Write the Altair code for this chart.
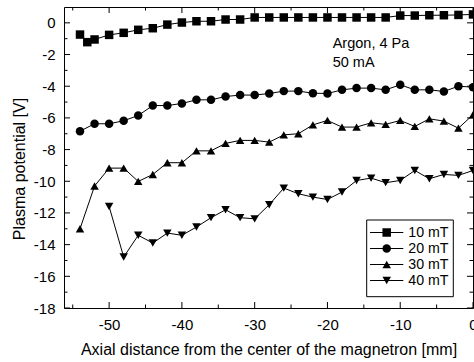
import altair as alt
import pandas as pd

# ---- data ----
series_labels = ["10 mT", "20 mT", "30 mT", "40 mT"]
series_shapes = ["square", "circle", "triangle-up", "triangle-down"]

x_10 = [-54, -53, -52, -50, -48, -46, -44, -42, -40, -38, -36, -34, -32, -30,
        -28, -26, -24, -22, -20, -18, -16, -14, -12, -10, -8, -6, -4, -2, 0]
y_10 = [-0.74, -1.22, -1.05, -0.76, -0.63, -0.44, -0.34, -0.11, 0.02, 0.10, 0.10,
        0.21, 0.21, 0.34, 0.34, 0.34, 0.34, 0.34, 0.34, 0.34, 0.34, 0.34, 0.34,
        0.46, 0.46, 0.48, 0.48, 0.50, 0.53]

x_20 = [-54, -52, -50, -48, -46, -44, -42, -40, -38, -36, -34, -32, -30, -28,
        -26, -24, -22, -20, -18, -16, -14, -12, -10, -8, -6, -4, -2, 0]
y_20 = [-6.84, -6.37, -6.37, -6.18, -5.85, -5.22, -5.22, -5.09, -4.86, -4.86,
        -4.65, -4.56, -4.56, -4.46, -4.31, -4.31, -4.44, -4.46, -4.23, -4.12,
        -4.12, -4.23, -3.91, -4.23, -4.23, -4.33, -4.00, -4.06]

x_30 = [-54, -52, -50, -48, -46, -44, -42, -40, -38, -36, -34, -32, -30, -28,
        -26, -24, -22, -20, -18, -16, -14, -12, -10, -8, -6, -4, -2, 0]
y_30 = [-13.0, -10.3, -9.17, -9.17, -10.01, -9.57, -8.83, -8.83, -8.08, -8.08,
        -7.61, -7.42, -7.42, -7.53, -7.07, -7.00, -6.44, -6.16, -6.58, -6.58,
        -6.31, -6.41, -6.16, -6.54, -6.06, -6.20, -6.65, -5.80]

x_40 = [-50, -48, -46, -44, -42, -40, -38, -36, -34, -32, -30, -28, -26, -24,
        -22, -20, -18, -16, -14, -12, -10, -8, -6, -4, -2, 0]
y_40 = [-11.59, -14.78, -13.41, -13.90, -13.27, -13.41, -12.89, -12.30, -11.80,
        -12.30, -12.37, -11.48, -10.43, -10.79, -11.00, -11.15, -10.68, -9.95,
        -9.80, -10.09, -9.95, -9.32, -9.84, -9.57, -9.63, -9.32]

x_major = [-50, -40, -30, -20, -10, 0]
x_minor = [-55, -45, -35, -25, -15, -5]
y_major = [-18, -16, -14, -12, -10, -8, -6, -4, -2, 0]
y_minor = [-17, -15, -13, -11, -9, -7, -5, -3, -1]

annotation = "Argon, 4 Pa\n50 mA"
x_title = "Axial distance from the center of the magnetron [mm]"
y_title = "Plasma potential [V]"

FONT = "Liberation Sans"
W, H = 409, 301
LABEL_FS = 15
TITLE_FS = 16

frames = []
for lab, xs, ys in zip(series_labels, [x_10, x_20, x_30, x_40], [y_10, y_20, y_30, y_40]):
    frames.append(pd.DataFrame({"x": xs, "y": ys, "series": lab}))
df = pd.concat(frames, ignore_index=True)

xscale = alt.Scale(domain=[-56.2, 0], nice=False, zero=False)
yscale = alt.Scale(domain=[-18, 1], nice=False, zero=False)

common_axis = dict(
    ticks=False, tickSize=0, domain=False, grid=False,
    labelFont=FONT, labelFontSize=LABEL_FS, labelColor="black", labelPadding=9,
    titleFont=FONT, titleFontSize=TITLE_FS, titleFontWeight="normal", titleColor="black",
    labelFlush=False, labelOverlap=False, labelBound=False,
    labelExpr="toString(datum.value)",
)
x_axis = alt.Axis(values=x_major, title=x_title,
                  titleX=W / 2, titleY=46.5, titleBaseline="alphabetic",
                  titleAlign="center", **common_axis)
y_axis = alt.Axis(values=y_major, title=y_title,
                  titleAngle=270, titleX=-40, titleY=161.5,
                  titleAlign="center", titleBaseline="alphabetic", **common_axis)

lines = alt.Chart(df).mark_line(color="black", strokeWidth=1).encode(
    x=alt.X("x:Q", scale=xscale, axis=x_axis),
    y=alt.Y("y:Q", scale=yscale, axis=y_axis),
    detail="series:N")
points = alt.Chart(df).mark_point(filled=True, color="black", opacity=1, size=72).encode(
    x=alt.X("x:Q", scale=xscale, axis=x_axis),
    y=alt.Y("y:Q", scale=yscale, axis=y_axis),
    shape=alt.Shape("series:N", scale=alt.Scale(domain=series_labels, range=series_shapes),
                    legend=None))

def xticks(vals, length):
    d = pd.DataFrame({"x": vals})
    bottom = alt.Chart(d).mark_rule(color="black", strokeWidth=1).encode(
        x=alt.X("x:Q", scale=xscale, axis=x_axis), y=alt.value(H), y2=alt.value(H - length))
    top = alt.Chart(d).mark_rule(color="black", strokeWidth=1).encode(
        x=alt.X("x:Q", scale=xscale, axis=x_axis), y=alt.value(0), y2=alt.value(length))
    return [bottom, top]

def yticks(vals, length):
    d = pd.DataFrame({"y": vals})
    left = alt.Chart(d).mark_rule(color="black", strokeWidth=1).encode(
        y=alt.Y("y:Q", scale=yscale, axis=y_axis), x=alt.value(0), x2=alt.value(length))
    right = alt.Chart(d).mark_rule(color="black", strokeWidth=1).encode(
        y=alt.Y("y:Q", scale=yscale, axis=y_axis), x=alt.value(W), x2=alt.value(W - length))
    return [left, right]

tick_layers = xticks(x_major, 6) + xticks(x_minor, 3.5) + yticks(y_major, 6) + yticks(y_minor, 3.5)

one = pd.DataFrame({"a": [0]})
note = alt.Chart(one).mark_text(align="left", baseline="alphabetic", fontSize=14.5,
                                font=FONT, color="black", lineBreak="\n",
                                lineHeight=18.7).encode(
    x=alt.value(268.7), y=alt.value(41), text=alt.value(annotation))

# legend (drawn by hand: line + marker + label)
leg_x0, leg_x1, leg_y0, leg_y1 = 302.7, 389.3, 213, 289.7
legend_layers = [alt.Chart(one).mark_rect(fill="white", stroke="black", strokeWidth=1).encode(
    x=alt.value(leg_x0), x2=alt.value(leg_x1), y=alt.value(leg_y0), y2=alt.value(leg_y1))]
for i, (lab, shp) in enumerate(zip(series_labels, series_shapes)):
    yy = 225.5 + 16 * i
    legend_layers.append(alt.Chart(one).mark_rule(color="black", strokeWidth=1).encode(
        x=alt.value(306), x2=alt.value(339.3), y=alt.value(yy)))
    legend_layers.append(alt.Chart(one).mark_point(filled=True, color="black", opacity=1,
                                                   size=72, shape=shp).encode(
        x=alt.value(322.7), y=alt.value(yy)))
    legend_layers.append(alt.Chart(one).mark_text(align="left", baseline="middle", fontSize=14.2,
                                                  font=FONT, color="black").encode(
        x=alt.value(344.3), y=alt.value(yy + 0.5), text=alt.value(lab)))

chart = alt.layer(lines, points, *tick_layers, note, *legend_layers).properties(
    width=W, height=H,
    padding={"left": 64, "top": 7, "right": 1, "bottom": 54},
    autosize="none",
    background="white",
).configure_view(stroke="black", strokeWidth=1)

chart.save("out.html", embed_options={"renderer": "svg", "actions": False})
